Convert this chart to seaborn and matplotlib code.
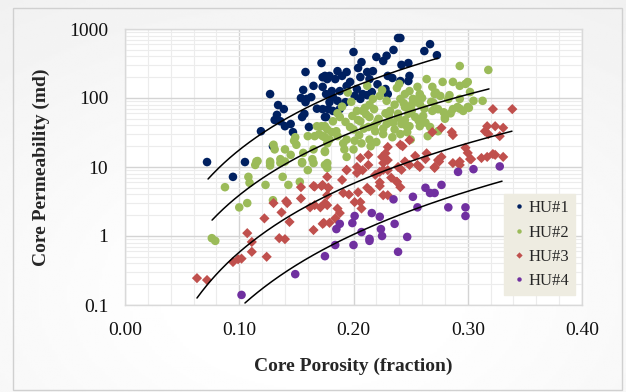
import numpy as np
import pandas as pd
import matplotlib
matplotlib.use("Agg")
import matplotlib.pyplot as plt
import seaborn as sns
from matplotlib.ticker import FixedLocator, NullFormatter

# ---------------- data ----------------
hu1_phi = [0.0718, 0.105, 0.0945, 0.1295, 0.119, 0.127, 0.134, 0.139, 0.133, 0.131, 0.136, 0.14,
           0.147, 0.155, 0.157, 0.161, 0.156, 0.154, 0.159, 0.163, 0.158, 0.158, 0.172, 0.173,
           0.177, 0.176, 0.178, 0.176, 0.2, 0.239, 0.241, 0.229, 0.235, 0.267, 0.262, 0.273,
           0.207, 0.22, 0.226, 0.248, 0.242, 0.175, 0.179, 0.186, 0.184, 0.19, 0.194, 0.197,
           0.204, 0.206, 0.212, 0.214, 0.217, 0.221, 0.23, 0.234, 0.241, 0.248, 0.249, 0.173,
           0.181, 0.188, 0.194, 0.203, 0.208, 0.216, 0.228, 0.23, 0.182, 0.186, 0.179, 0.193,
           0.201, 0.206, 0.212, 0.173, 0.175, 0.182, 0.188, 0.145, 0.165, 0.168]
hu1_k = [11.8, 11.8, 7.2, 20, 33, 114, 79, 69, 57, 48, 46, 39,
         32, 53, 59, 38, 131, 100, 97, 103, 87, 238, 321, 200,
         188, 114, 69, 53, 464, 741, 741, 410, 497, 603, 479, 417,
         331, 393, 344, 321, 302, 209, 209, 245, 188, 209, 238, 171,
         272, 201, 238, 188, 245, 158, 209, 195, 176, 176, 209, 145,
         126, 126, 149, 135, 114, 122, 135, 114, 103, 91, 87, 87,
         107, 97, 110, 69, 53, 65, 69, 42, 150, 70]

hu2_phi = [0.168, 0.172, 0.177, 0.16, 0.166, 0.149, 0.15, 0.175, 0.177, 0.165, 0.131, 0.115,
           0.127, 0.136, 0.14, 0.155, 0.114, 0.127, 0.175, 0.164, 0.127, 0.136, 0.155, 0.165,
           0.175, 0.116, 0.108, 0.109, 0.123, 0.138, 0.143, 0.153, 0.0875, 0.1, 0.107, 0.1295,
           0.076, 0.079, 0.177, 0.14, 0.145, 0.13, 0.148, 0.156, 0.16,
           0.264, 0.278, 0.287, 0.3, 0.269, 0.256, 0.249, 0.258, 0.245, 0.241, 0.252, 0.271,
           0.276, 0.283, 0.293, 0.291, 0.3, 0.28, 0.274, 0.269, 0.258, 0.251, 0.245, 0.236,
           0.229, 0.223, 0.217, 0.214, 0.232, 0.239, 0.248, 0.254, 0.261, 0.258, 0.249, 0.242,
           0.236, 0.229, 0.221, 0.214, 0.208, 0.203, 0.199, 0.206, 0.213, 0.219, 0.226, 0.234,
           0.241, 0.247, 0.2, 0.193, 0.188, 0.182, 0.175, 0.173, 0.179, 0.186, 0.194, 0.201,
           0.207, 0.214, 0.22, 0.191, 0.175, 0.194, 0.2, 0.287, 0.296, 0.267, 0.274,
           0.293, 0.318, 0.298, 0.293, 0.302, 0.305, 0.313, 0.293, 0.301, 0.177,
           0.228, 0.245, 0.262, 0.21, 0.225, 0.238, 0.255, 0.27, 0.285, 0.218, 0.205, 0.19,
           0.232, 0.25, 0.265, 0.28, 0.198, 0.212, 0.24, 0.26, 0.215, 0.185, 0.17, 0.195,
           0.222, 0.235, 0.246, 0.257, 0.268, 0.279, 0.211, 0.226, 0.239, 0.251, 0.263,
           0.204, 0.218, 0.231, 0.244, 0.186, 0.197, 0.209, 0.272, 0.284, 0.181, 0.192]
hu2_k = [39, 39, 35, 28, 28, 27, 21, 27, 22, 18, 18, 12,
         12, 13, 12, 11.8, 10.7, 10.5, 17, 13, 11.4, 11.5, 11.4, 11.4,
         10.7, 12.2, 7.2, 5.9, 5.5, 7.2, 5.5, 6.1, 5.1, 2.6, 3.0, 3.3,
         0.93, 0.85, 9.7, 18, 15, 21, 24, 16, 9,
         188, 171, 171, 171, 145, 145, 126, 114, 114, 97, 97, 114,
         107, 97, 97, 74, 74, 53, 69, 65, 82, 80, 74, 80,
         91, 107, 97, 80, 65, 59, 59, 53, 55, 39, 39, 42,
         35, 42, 46, 53, 65, 65, 55, 46, 38, 33, 30, 27,
         30, 32, 35, 45, 53, 46, 39, 28, 25, 28, 25, 24,
         22, 25, 23, 22, 16.5, 14, 18, 69, 65, 38, 33,
         291, 255, 160, 150, 122, 91, 91, 70, 72, 11.4,
         60, 48, 70, 72, 130, 140, 95, 85, 60, 40, 29, 75,
         45, 25, 28, 50, 88, 150, 160, 100, 20, 33, 30, 120,
         50, 44, 40, 47, 88, 62, 58, 36, 52, 66, 44,
         48, 69, 56, 84, 60, 38, 36, 120, 110, 32, 18]

hu3_phi = [0.063, 0.0718, 0.0945, 0.099, 0.102, 0.107, 0.111, 0.111, 0.124, 0.135, 0.14, 0.122,
           0.13, 0.137, 0.141, 0.142, 0.144, 0.154, 0.154, 0.165, 0.165, 0.172, 0.162, 0.166,
           0.171, 0.177, 0.173, 0.177, 0.177, 0.173, 0.175, 0.174, 0.179, 0.184, 0.178, 0.186,
           0.188, 0.191, 0.194, 0.203, 0.204, 0.206, 0.207, 0.201, 0.212, 0.213, 0.223, 0.226,
           0.223, 0.226, 0.23, 0.238, 0.241, 0.242, 0.249, 0.258, 0.271, 0.274, 0.23, 0.226,
           0.269, 0.277, 0.287, 0.286, 0.298, 0.302, 0.322, 0.339, 0.317, 0.324, 0.331, 0.328,
           0.322, 0.331, 0.293, 0.312, 0.23, 0.228, 0.225, 0.241, 0.243, 0.249, 0.264, 0.256,
           0.271, 0.277, 0.275, 0.287, 0.254, 0.263, 0.213, 0.206, 0.203, 0.194, 0.208, 0.219,
           0.23, 0.239, 0.245, 0.178, 0.166, 0.223, 0.238, 0.315, 0.318, 0.303, 0.317,
           0.324, 0.293, 0.3, 0.19, 0.196, 0.215, 0.233]
hu3_k = [0.245, 0.23, 0.42, 0.46, 0.47, 1.1, 0.82, 0.59, 0.5, 0.93, 0.9, 1.8,
         3.0, 2.2, 3.2, 3.0, 1.6, 5.1, 3.5, 1.22, 5.3, 5.3, 2.6, 2.8,
         2.6, 2.8, 1.5, 7.2, 3.9, 5.5, 3.0, 1.55, 1.55, 1.8, 5.0, 2.5,
         2.15, 4.2, 9.1, 8.2, 4.3, 3.1, 2.5, 3.1, 5.0, 10.7, 8.5, 11.4,
         5.3, 3.9, 3.9, 6.1, 5.1, 9.1, 10.7, 10, 10, 12.6, 12.6, 9.1,
         32, 37, 29, 32, 19, 13, 69, 69, 39, 39, 37, 28,
         15.4, 14, 10.7, 13.5, 19.5, 15.8, 14, 21, 20, 24.5, 15.8, 10.7,
         9.7, 14, 12, 11.4, 14.5, 13, 15, 13.5, 10, 9, 9, 7.7,
         9, 10, 12, 5.0, 5.2, 6.0, 6.1, 33, 30, 13, 14,
         15, 12, 16, 6.5, 4.0, 4.5, 7.0]

hu4_phi = [0.175, 0.149, 0.102, 0.2915, 0.263, 0.267, 0.271, 0.277, 0.252, 0.235, 0.256, 0.283,
           0.298, 0.298, 0.216, 0.223, 0.201, 0.199, 0.188, 0.185, 0.236, 0.224, 0.207, 0.225,
           0.214, 0.214, 0.247, 0.2, 0.184, 0.239, 0.305, 0.328]
hu4_k = [0.51, 0.28, 0.14, 8.5, 5.0, 4.2, 4.2, 5.5, 3.7, 3.4, 2.6, 2.6,
         2.6, 1.95, 2.15, 1.9, 1.95, 1.54, 1.5, 1.26, 1.5, 1.26, 1.14, 1.0,
         0.91, 0.85, 0.97, 0.74, 0.74, 0.59, 9.3, 10.2]

groups = ["HU#1", "HU#2", "HU#3", "HU#4"]
colors = ["#002060", "#9BBB59", "#C0504D", "#7030A0"]

# power-law trend lines: k = a * phi^b over [phi_min, phi_max]
trend_a = [19360, 4485, 1189, 319]
trend_b = [3.04, 3.06, 3.31, 3.55]
trend_min = [0.0727, 0.0762, 0.063, 0.105]
trend_max = [0.274, 0.3186, 0.3387, 0.33]

x_ticks = [0.0, 0.1, 0.2, 0.3, 0.4]
x_labels = ["0.00", "0.10", "0.20", "0.30", "0.40"]
y_ticks = [0.1, 1, 10, 100, 1000]
y_labels = ["0.1", "1", "10", "100", "1000"]

# ---------------- build table ----------------
phis = [hu1_phi, hu2_phi, hu3_phi, hu4_phi]
ks = [hu1_k, hu2_k, hu3_k, hu4_k]
rows = []
for g, p, k in zip(groups, phis, ks):
    for pi, ki in zip(p, k):
        rows.append((g, pi, ki))
df = pd.DataFrame(rows, columns=["HU", "phi", "k"])

# ---------------- figure ----------------
sns.set_theme(style="white")
plt.rcParams["font.family"] = ["Liberation Serif", "DejaVu Serif"]

fig = plt.figure(figsize=(6.26, 3.92), dpi=100)

# background gradient + frame
bg = fig.add_axes([0, 0, 1, 1], zorder=-10)
xx, yy = np.meshgrid(np.linspace(0, 1, 200), np.linspace(0, 1, 200))
shade = 1.0 - 0.08 * np.clip(np.hypot(xx - 0.5, yy - 0.75) - 0.2, 0, 1)
bg.imshow(shade, cmap="gray", vmin=0, vmax=1, extent=[0, 1, 0, 1], aspect="auto", origin="upper")
bg.add_patch(plt.Rectangle((13 / 626, 2 / 392), 609 / 626, 382 / 392, fill=False,
                           edgecolor="#d0d0d0", lw=1.0, transform=bg.transAxes))
bg.set_axis_off()

ax = fig.add_axes([125 / 626, 1 - 305 / 392, 457 / 626, 276 / 392])
ax.set_facecolor("white")

sns.scatterplot(data=df, x="phi", y="k", hue="HU", style="HU", hue_order=groups,
                style_order=groups, palette=colors,
                markers={"HU#1": "o", "HU#2": "o", "HU#3": "D", "HU#4": "o"},
                s=38, linewidth=0, ax=ax, zorder=3)
# diamonds drawn a little smaller so they match the dots visually
coll = ax.collections[0]
coll.set_sizes(np.where(df["HU"].to_numpy() == "HU#3", 27, 38))

for a, b, lo, hi in zip(trend_a, trend_b, trend_min, trend_max):
    xs = np.linspace(lo, hi, 200)
    ax.plot(xs, a * xs ** b, color="black", lw=1.1, zorder=4)

ax.set_yscale("log")
ax.set_xlim(0, 0.4)
ax.set_ylim(0.1, 1000)
ax.set_xticks(x_ticks)
ax.set_xticklabels(x_labels)
ax.set_yticks(y_ticks)
ax.set_yticklabels(y_labels)
ax.xaxis.set_minor_locator(FixedLocator(np.arange(0, 0.4001, 0.02)))
ax.yaxis.set_minor_locator(FixedLocator([m * 10.0 ** e for e in range(-1, 3) for m in range(2, 10)]))
ax.yaxis.set_minor_formatter(NullFormatter())
ax.grid(True, which="major", color="#d4d4d4", lw=1.0)
ax.grid(True, which="minor", color="#ececec", lw=0.8)
ax.set_axisbelow(True)
ax.tick_params(axis="both", which="both", length=0, labelsize=14, pad=12, colors="#111111")
for sp in ax.spines.values():
    sp.set_color("#d9d9d9")
    sp.set_linewidth(1.0)

ax.set_xlabel("Core Porosity (fraction)", fontsize=14, fontweight="bold", labelpad=14)
ax.set_ylabel("Core Permeability (md)", fontsize=14, fontweight="bold", labelpad=14)

handles, labels = ax.get_legend_handles_labels()
for h in handles:
    try:
        h.set_markersize(3.2)
    except Exception:
        pass
leg = ax.legend(handles, labels, loc="lower right", bbox_to_anchor=(0.985, 0.036),
                borderaxespad=0, frameon=True, fontsize=12, handletextpad=0.1,
                handlelength=1.0, labelspacing=0.5, borderpad=0.35)
leg.get_frame().set_facecolor("#EEECE1")
leg.get_frame().set_edgecolor("#EEECE1")
leg.get_frame().set_alpha(1)
leg.get_frame().set_boxstyle("square", pad=0)
leg.set_zorder(6)

fig.savefig("out.png", dpi=100)
